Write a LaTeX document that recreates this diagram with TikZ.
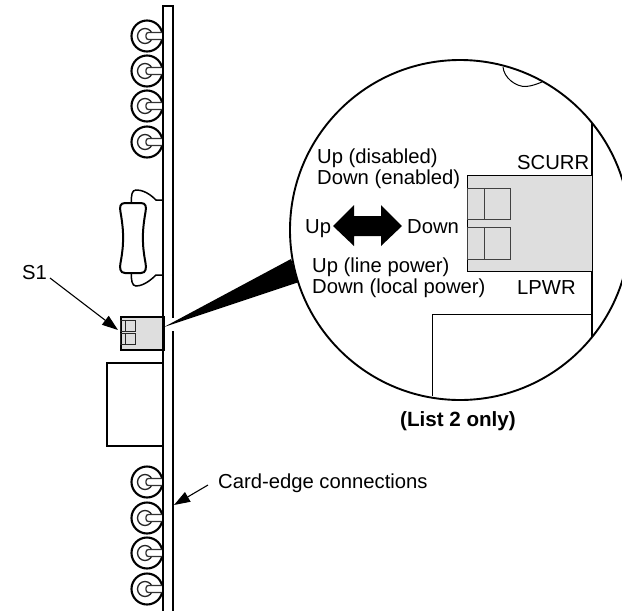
\documentclass[tikz,border=0pt]{standalone}
\usepackage{fontspec}
\setmainfont{Liberation Sans}
\usetikzlibrary{arrows.meta}
\definecolor{panelgrey}{HTML}{DEDEDE}
\tikzset{
  lbl/.style={anchor=base west,inner sep=0pt,font=\fontsize{20.25}{22}\selectfont},
  boldlbl/.style={lbl,font=\fontsize{20.6}{22}\selectfont\bfseries},
  heavy/.style={line width=2.8pt,line cap=butt},
  thin line/.style={line width=1.5pt},
  leader/.style={line width=1.1pt,-{Triangle[length=16pt,width=11pt]}},
  swfill/.style={fill=panelgrey,draw=black},
  ring/.style={circle,draw=black,line width=2.1pt,fill=white,minimum size=31pt,inner sep=0pt},
  ringin/.style={circle,draw=black!85,line width=1.3pt,fill=white,minimum size=15pt,inner sep=0pt},
  pin/.style={draw=black!80,fill=white,line width=1.3pt,rounded corners=2.5pt},
}
\newcommand{\connector}[2]{%
  \node[ring] (#2o) at (147,#1) {};
  \node[ringin] (#2i) at (145,#1) {};
  \draw[pin] (162,#1-3.5) -- (146,#1-3.5) -- (146,#1+3.5) -- (162,#1+3.5);
}
\begin{document}
\begin{tikzpicture}[x=1pt,y=-1pt]
\useasboundingbox (0,0) rectangle (622,611);
\fill[white] (0,0) rectangle (622,611);
% connectors
\connector{36}{a}\connector{71}{b}\connector{106}{c}\connector{142}{d}
\connector{482}{e}\connector{518}{f}\connector{553}{g}\connector{589}{h}
% ejector handle
\draw[thin line] (163,200) -- (156,200) .. controls (147,191) and (140,190) .. (136,190) .. controls (132,190) and (131,195) .. (131.5,203);
\draw[thin line] (163,275) -- (156,275) .. controls (147,284) and (140,286) .. (136,286) .. controls (132,286) and (131,280) .. (131.5,273);
\draw[line width=2pt,fill=white] (125,203) -- (141,203) .. controls (146,203) and (146.5,207) .. (145.5,212)
  .. controls (142,232) and (142,244) .. (145.5,263) .. controls (146.5,268) and (146,273) .. (141,273)
  -- (125,273) .. controls (120,273) and (119.5,268) .. (120.5,263) .. controls (124,244) and (124,232) .. (120.5,212)
  .. controls (119.5,207) and (120,203) .. (125,203) -- cycle;
% switch on card
\node[swfill,line width=2pt,minimum width=43pt,minimum height=33pt,inner sep=0pt,anchor=north west] (sw) at (120,316) {};
\coordinate (swtip) at (118,330);
\draw[line width=1pt,black!85] (120.5,320) rectangle (135,331) (125,320) -- (125,331);
\draw[line width=1pt,black!85] (120.5,333) rectangle (135,344) (125,333) -- (125,344);
% front-panel box
\draw[line width=1.4pt,fill=white] (163,363) -- (107,363) -- (107,446) -- (163,446);
% card edges
\draw[heavy] (163,611) -- (163,6) -- (173,6) -- (173,318);
\draw[heavy] (173,331) -- (173,611);
% wedge
\coordinate (apex) at (164,327);
\fill (apex) -- (291,259) -- (299,282) -- cycle;
% magnifier
\begin{scope}
\clip (0,0) rectangle (622,611);
\node[circle,draw=black,line width=1.9pt,fill=white,minimum size=340pt,inner sep=0pt] (lens) at (460,230) {};
\end{scope}
\draw[line width=1pt] (503,67) .. controls (504,78) and (516,87) .. (526,86.5) .. controls (532,86) and (537,84) .. (542,82);
\draw[line width=.9pt] (592,314) -- (432,314) -- (432,396);
\draw[line width=2.4pt] (592,123) -- (592,337);
\node[swfill,line width=1.3pt,minimum width=125pt,minimum height=96pt,inner sep=0pt,anchor=north west] (big) at (467,175) {};
\draw[line width=1pt,black!75] (467,188) rectangle (510,219) (484,188) -- (484,219);
\draw[line width=1pt,black!75] (467,227) rectangle (510,259) (484,227) -- (484,259);
% double arrow
\fill (333,226) -- (354,205) -- (354,216) -- (381,216) -- (381,205) -- (402,226) -- (381,246) -- (381,236) -- (354,236) -- (354,246) -- cycle;
% labels
\node[lbl] (t1) at (317,163) {Up (disabled)};
\node[lbl] (t2) at (317,184) {Down (enabled)};
\node[lbl] (t3) at (305,233) {Up};
\node[lbl] (t4) at (407,233) {Down};
\node[lbl] (t5) at (312,272) {Up (line power)};
\node[lbl] (t6) at (312,293) {Down (local power)};
\node[lbl] (t7) at (517,169) {SCURR};
\node[lbl] (t8) at (517,294) {LPWR};
\node[boldlbl] (t9) at (400,426) {(List 2 only)};
\node[lbl] (s1) at (22,279) {S1};
\node[lbl] (ce) at (218,488) {Card-edge connections};
\coordinate (cetip) at (174,505);
\coordinate (s1start) at (50,278);
\coordinate (cestart) at (208,485);
\draw[leader] (s1start) -- (swtip);
\draw[leader] (cestart) -- (cetip);
\end{tikzpicture}
\end{document}
